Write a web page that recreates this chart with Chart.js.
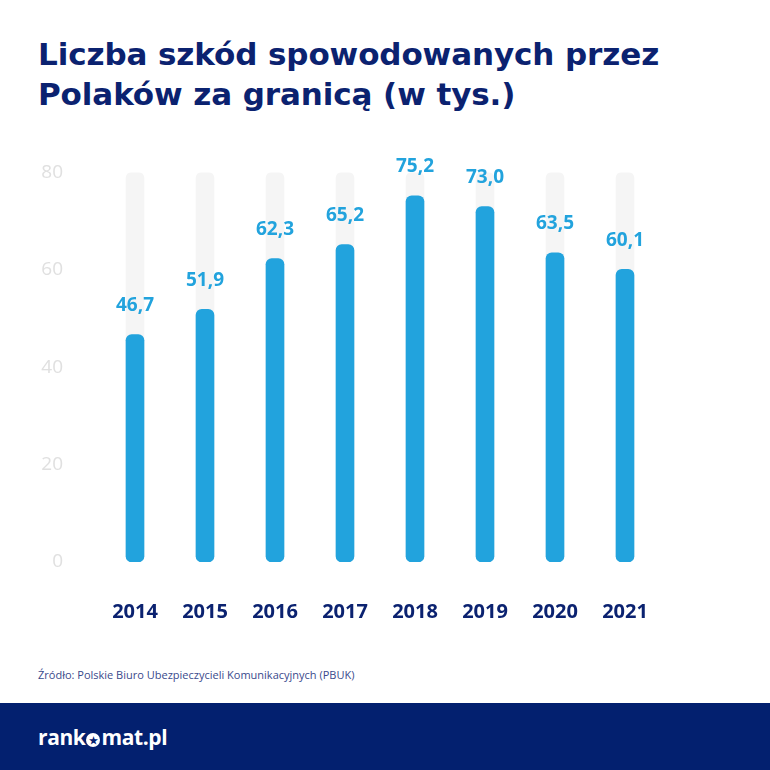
<!DOCTYPE html>
<html lang="pl">
<head>
<meta charset="utf-8">
<script src="https://cdn.jsdelivr.net/npm/chart.js@4"></script>
<style>
  html, body { margin: 0; padding: 0; background: #fff; }
  body { width: 770px; height: 770px; position: relative; overflow: hidden; font-family: "Open Sans", sans-serif; }
  #title { position: absolute; left: 38px; top: 34px; margin: 0; font-family: "DejaVu Sans", sans-serif; font-size: 31px; line-height: 40px; font-weight: 700; color: #0b2270; letter-spacing: -0.1px; }
  #chartBox { position: absolute; left: 0; top: 124px; width: 770px; height: 516px; }
  #source { position: absolute; left: 38px; top: 667px; font-size: 11px; color: #3a4a8c; }
  #footer { position: absolute; left: 0; top: 703px; width: 770px; height: 67px; background: #03206f; }
  #logo { position: absolute; left: 38px; top: 21px; font-size: 21px; font-weight: 700; color: #fff; letter-spacing: -0.4px; line-height: 26px; }
  #logo .star { display: inline-block; width: 14px; height: 14px; border-radius: 50%; background: #fff; color: #03206f; font-size: 10px; line-height: 14px; text-align: center; vertical-align: 1px; margin: 0 1px; letter-spacing: 0; }
</style>
</head>
<body>
<h1 id="title">Liczba szkód spowodowanych przez<br>Polaków za granicą (w tys.)</h1>
<div id="chartBox"><canvas id="chart" width="770" height="516"></canvas></div>
<div id="source">Źródło: Polskie Biuro Ubezpieczycieli Komunikacyjnych (PBUK)</div>
<div id="footer"><div id="logo">rank<span class="star">★</span>mat.pl</div></div>
<script>
// Data
const years = ['2014', '2015', '2016', '2017', '2018', '2019', '2020', '2021'];
const claims = [46.7, 51.9, 62.3, 65.2, 75.2, 73.0, 63.5, 60.1];
const trackMax = [80, 80, 80, 80, 80, 80, 80, 80];
const yTicks = [0, 20, 40, 60, 80];

const BLUE = '#22a3dd';
const NAVY = '#0b2270';

const formatPl = v => v.toFixed(1).replace('.', ',');

// value labels above the blue bars
const valueLabels = {
  id: 'valueLabels',
  afterDatasetsDraw(chart) {
    const ctx = chart.ctx;
    const meta = chart.getDatasetMeta(1);
    ctx.save();
    ctx.font = '700 19px "Open Sans", sans-serif';
    ctx.fillStyle = BLUE;
    ctx.textAlign = 'center';
    ctx.textBaseline = 'middle';
    meta.data.forEach((bar, i) => {
      ctx.fillText(formatPl(claims[i]), bar.x, bar.y - 29);
    });
    ctx.restore();
  }
};

new Chart(document.getElementById('chart'), {
  type: 'bar',
  data: {
    labels: years,
    datasets: [
      {
        label: 'tło',
        data: trackMax,
        backgroundColor: '#f5f5f5',
        barThickness: 18,
        borderRadius: 6,
        borderSkipped: false,
        grouped: false,
        order: 2
      },
      {
        label: 'Liczba szkód',
        data: claims,
        backgroundColor: BLUE,
        barThickness: 18,
        borderRadius: 6,
        borderSkipped: false,
        grouped: false,
        order: 1
      }
    ]
  },
  options: {
    responsive: false,
    animation: false,
    layout: { padding: { top: 22, right: 110, left: 0, bottom: 0 } },
    plugins: { legend: { display: false }, tooltip: { enabled: false } },
    scales: {
      x: {
        grid: { display: false, drawTicks: false },
        border: { display: false },
        ticks: { padding: 38, color: NAVY, font: { family: '"Open Sans", sans-serif', size: 20, weight: '700' } },
        afterFit(scale) { scale.height = 78; }
      },
      y: {
        min: 0,
        max: 80,
        grid: { display: false, drawTicks: false },
        border: { display: false },
        afterBuildTicks(scale) { scale.ticks = yTicks.map(v => ({ value: v })); },
        ticks: { padding: 37, color: '#e0e0e0', font: { family: '"Open Sans", sans-serif', size: 19 } },
        afterFit(scale) { scale.width = 100; }
      }
    }
  },
  plugins: [valueLabels]
});
</script>
</body>
</html>
